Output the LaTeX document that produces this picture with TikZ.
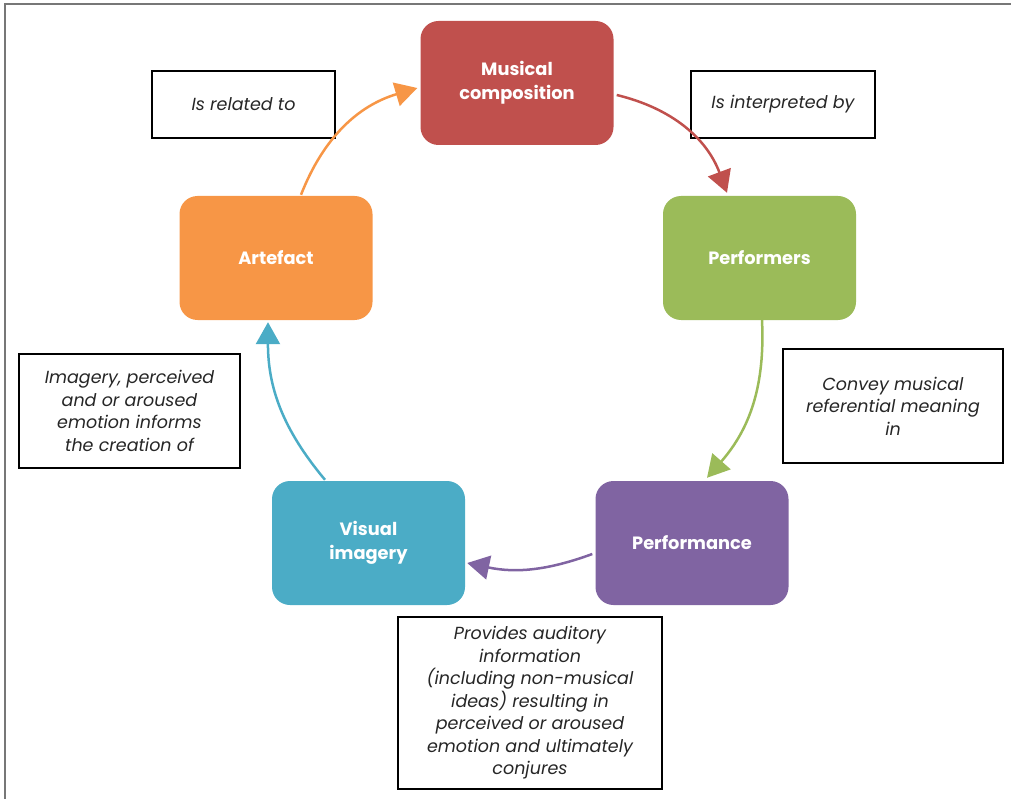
\documentclass[tikz,border=0pt]{standalone}
\usepackage{fontspec}
\setmainfont{Poppins}
\usetikzlibrary{arrows.meta}
\definecolor{cred}{HTML}{C0504D}
\definecolor{cgreen}{HTML}{9BBB59}
\definecolor{cpurple}{HTML}{8064A2}
\definecolor{cblue}{HTML}{4BACC6}
\definecolor{corange}{HTML}{F79646}
\definecolor{frame}{HTML}{777777}
\begin{document}
\begin{tikzpicture}[x=1pt,y=1pt,
  proc/.style={rounded corners=18pt, minimum width=193pt, minimum height=124pt,
    text=white, font=\fontsize{17.8}{24}\selectfont\bfseries, align=center, inner sep=0pt},
  lbl/.style={draw=black, line width=1.2pt, font=\fontsize{17.5}{22.5}\selectfont\itshape,
    align=center, text=black!85, inner sep=0pt},
  flow/.style={line width=2.5pt, -{Triangle[length=22pt,width=24pt]}}]
\useasboundingbox (0,0) rectangle (1011,-799);
\draw[frame, line width=2pt] (5,-799) -- (5,-4) -- (1011,-4);

\node[proc, fill=cred]    (mc)    at (517,-83)    {Musical\\composition};
\node[proc, fill=cgreen]  (perf)  at (759.5,-258) {Performers};
\node[proc, fill=cpurple] (perfm) at (692,-543)   {Performance};
\node[proc, fill=cblue]   (vi)    at (368.5,-543) {Visual\\imagery};
\node[proc, fill=corange] (art)   at (276,-258)   {Artefact};

\node[lbl, minimum width=183pt, minimum height=67pt]  (rel)    at (243.5,-104.5) {Is related to};
\node[lbl, minimum width=184pt, minimum height=67pt]  (interp) at (783,-104.5)   {Is interpreted by};
\node[lbl, minimum width=220pt, minimum height=114pt] (convey) at (893,-406)     {Convey musical\\referential meaning\\in};
\node[lbl, minimum width=221pt, minimum height=114pt] (imag)   at (129.5,-411)   {Imagery, perceived\\and or aroused\\emotion informs\\the creation of};
\node[lbl, minimum width=264pt, minimum height=172pt] (prov)   at (530,-703)     {Provides auditory\\information\\(including non-musical\\ideas) resulting in\\perceived or aroused\\emotion and ultimately\\conjures};

\draw[flow, cred]    ([shift={(3,-12)}]mc.east)     to[bend left=28] ([shift={(-32.5,3)}]perf.north);
\draw[flow, cgreen]  ([shift={(2.5,0)}]perf.south)  to[bend left=22] ([shift={(15,3)}]perfm.north);
\draw[flow, cpurple] ([shift={(-3,-11)}]perfm.west) to[bend left=16] ([shift={(2,-20)}]vi.east);
\draw[flow, cblue]   ([shift={(-43.5,1)}]vi.north)  to[bend left=20] ([shift={(-8,-2)}]art.south);
\draw[flow, corange] ([shift={(25,1)}]art.north)    to[bend left=26] ([shift={(-3,-5)}]mc.west);
\end{tikzpicture}
\end{document}
